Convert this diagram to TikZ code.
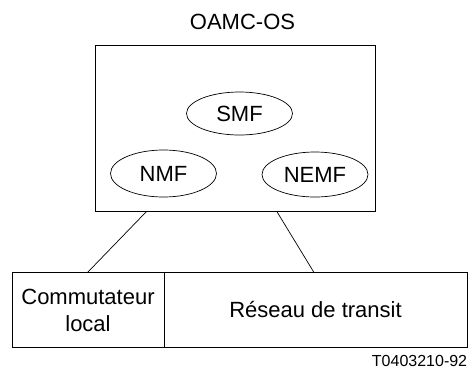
\documentclass[tikz,border=0pt]{standalone}
\usepackage{fontspec}
\setmainfont{Liberation Sans}
\usetikzlibrary{shapes.geometric}
\begin{document}
\begin{tikzpicture}[x=1pt,y=-1pt,
  line width=0.7pt,
  big/.style={font=\fontsize{22}{27}\selectfont},
  fn/.style={draw,ellipse,inner sep=0pt,big,minimum width=106pt,minimum height=45pt},
  box/.style={draw,inner sep=0pt}]
\useasboundingbox (0,0) rectangle (472,373);
\node[big] (title) at (242.5,22) {OAMC-OS};
\node[box,minimum width=280.5pt,minimum height=166pt] (os) at (235.2,128.3) {};
\node[fn,minimum height=43pt] (smf) at (239.5,113.5) {SMF};
\node[fn,minimum height=47pt] (nmf) at (163.5,173.5) {NMF};
\node[fn] (nemf) at (315,174.5) {NEMF};
\node[box,minimum width=152pt,minimum height=75pt] (cl) at (88,310) {};
\node[box,minimum width=303pt,minimum height=75pt] (rt) at (315.5,310) {};
\node[big,align=center] (cltext) at (cl.center) {Commutateur\\local};
\node[big] (rttext) at (rt.center) {Réseau de transit};
\coordinate (a1) at (146.7,211.3);
\coordinate (a2) at (276.7,211.3);
\coordinate (b1) at (87.5,272.5);
\coordinate (b2) at (314,272.5);
\draw (a1) -- (b1);
\draw (a2) -- (b2);
\node[font=\fontsize{16}{19}\selectfont,anchor=east,inner sep=0pt] (ref) at (467.5,361) {T0403210-92};
\end{tikzpicture}
\end{document}
